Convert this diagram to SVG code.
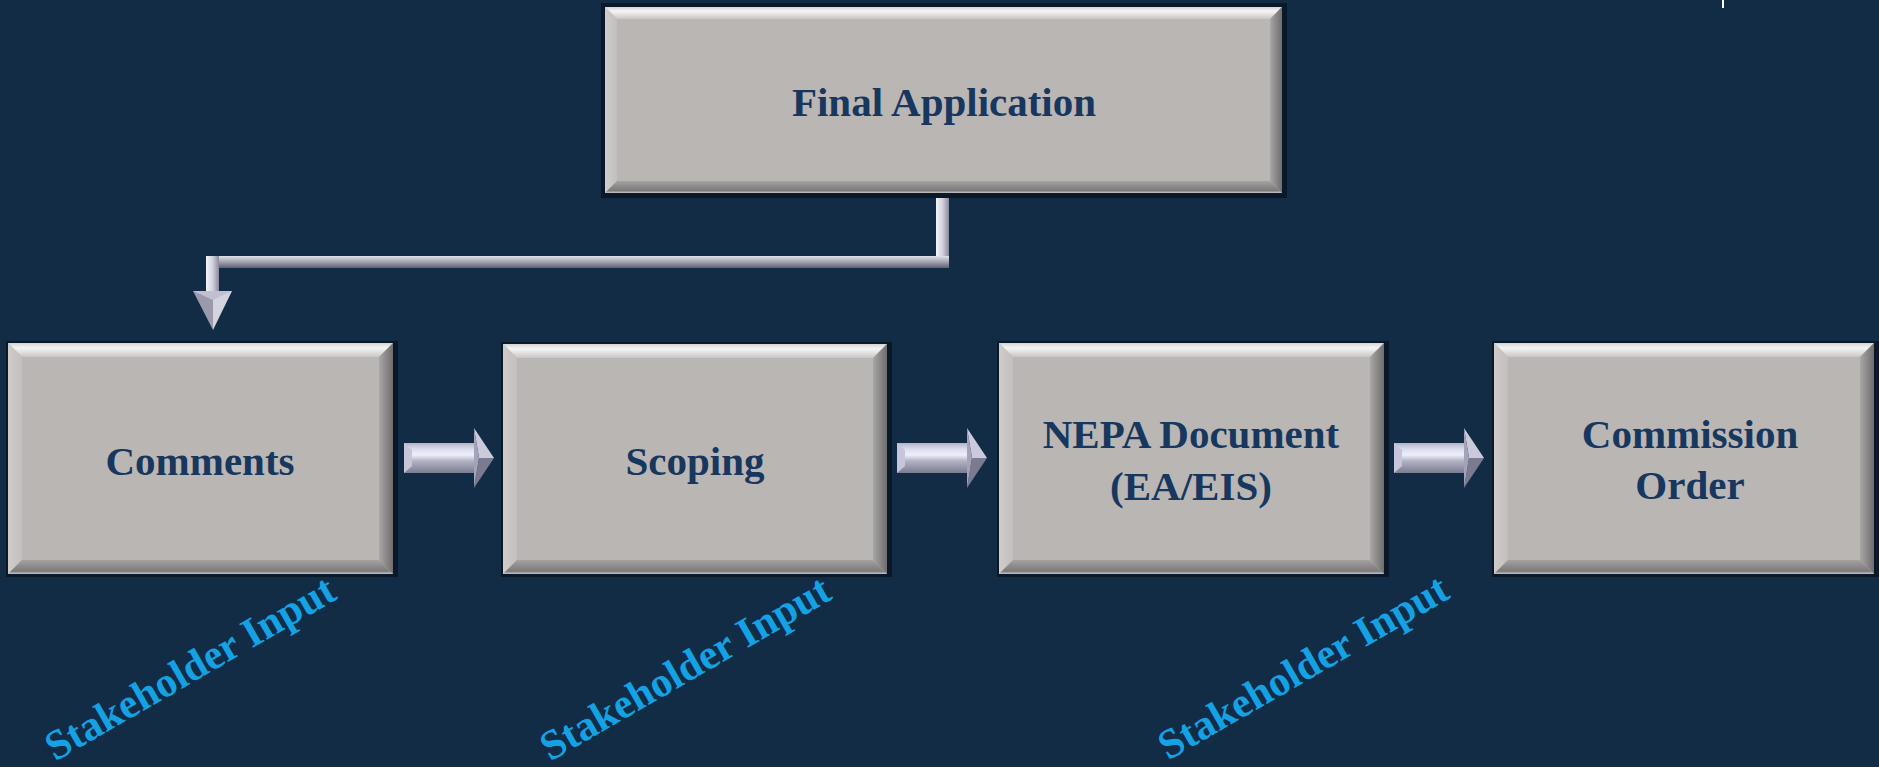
<svg xmlns="http://www.w3.org/2000/svg" width="1879" height="767" viewBox="0 0 1879 767">
<defs>
<style>
.base{fill:#bab6b4}
.shadow{fill:#0a1929}
.top{fill:url(#gTop)}
.left{fill:url(#gLeft)}
.right{fill:url(#gRight)}
.bottom{fill:url(#gBottom)}
.lbl{font-family:"Liberation Serif","Times New Roman",serif;font-weight:bold;font-size:41px;fill:#17375e;text-anchor:middle}
.sh{font-family:"Liberation Serif","Times New Roman",serif;font-weight:bold;font-size:42px;fill:#14a2e4;text-anchor:middle}
</style>
<linearGradient id="gTop" x1="0" y1="0" x2="0" y2="1"><stop offset="0" stop-color="#d6d3d3"/><stop offset="0.35" stop-color="#f6f5f5"/><stop offset="1" stop-color="#c9c6c5"/></linearGradient>
<linearGradient id="gLeft" x1="0" y1="0" x2="1" y2="0"><stop offset="0" stop-color="#cfcccb"/><stop offset="1" stop-color="#c2bfbe"/></linearGradient>
<linearGradient id="gRight" x1="0" y1="0" x2="1" y2="0"><stop offset="0" stop-color="#a9a6a5"/><stop offset="1" stop-color="#6f6d6d"/></linearGradient>
<linearGradient id="gBottom" x1="0" y1="0" x2="0" y2="1"><stop offset="0" stop-color="#a5a2a1"/><stop offset="0.8" stop-color="#7b7979"/><stop offset="1" stop-color="#c8c6c6"/></linearGradient>
<linearGradient id="gShaft" x1="0" y1="0" x2="0" y2="1"><stop offset="0" stop-color="#b4b4c8"/><stop offset="0.2" stop-color="#dcdcee"/><stop offset="0.4" stop-color="#eeeefb"/><stop offset="0.6" stop-color="#b2b2c6"/><stop offset="1" stop-color="#7c7c92"/></linearGradient>
<linearGradient id="gHBar" x1="0" y1="0" x2="0" y2="1"><stop offset="0" stop-color="#e2e2ea"/><stop offset="0.45" stop-color="#a8a8b6"/><stop offset="1" stop-color="#5e5e6e"/></linearGradient>
<linearGradient id="gVBar" x1="0" y1="0" x2="1" y2="0"><stop offset="0" stop-color="#f4f4fa"/><stop offset="0.5" stop-color="#d2d2de"/><stop offset="1" stop-color="#8a8a9c"/></linearGradient>
<g id="rarrow">
<rect x="0" y="15" width="72" height="30" fill="url(#gShaft)"/>
<polygon points="0,15 8,22 8,38 0,45" fill="#c6c6d8"/>
<polygon points="70,0 90,30 75,30" fill="#cacadc"/>
<polygon points="75,30 90,30 70,60" fill="#7a7a90"/>
<polygon points="70,0 75,30 70,60" fill="#a4a4b8"/>
</g>
</defs>
<rect width="1879" height="767" fill="#122c46"/>
<line x1="1723" y1="0" x2="1723" y2="8" stroke="#ffffff" stroke-width="2"/>

<g id="connectors">
<rect x="936" y="193" width="13" height="75" fill="url(#gVBar)"/>
<rect x="206" y="256" width="743" height="12" fill="url(#gHBar)"/>
<rect x="206" y="256" width="13" height="37" fill="url(#gVBar)"/>
<polygon points="193,291 213,291 213,330" fill="#9a9aac"/>
<polygon points="213,291 232,291 213,330" fill="#d4d4e0"/>
<polygon points="193,291 232,291 213,300" fill="#c0c0d0"/>
<use href="#rarrow" x="404" y="428"/>
<use href="#rarrow" x="897" y="428"/>
<use href="#rarrow" x="1394" y="428"/>
</g>

<g id="final-application">
<rect class="shadow" x="601" y="3" width="686" height="195"/>
<rect class="base" x="605" y="7" width="677" height="186"/>
<polygon class="top" points="605,7 1282,7 1270,19 617,19"/>
<polygon class="left" points="605,7 617,19 617,181 605,193"/>
<polygon class="right" points="1282,7 1282,193 1270,181 1270,19"/>
<polygon class="bottom" points="605,193 617,181 1270,181 1282,193"/>
<text class="lbl" x="944" y="116">Final Application</text>
</g>

<g id="comments">
<rect class="shadow" x="6" y="341" width="392" height="236"/>
<rect class="base" x="8" y="343" width="385" height="231"/>
<polygon class="top" points="8,343 393,343 379,357 22,357"/>
<polygon class="left" points="8,343 22,357 22,560 8,574"/>
<polygon class="right" points="393,343 393,574 379,560 379,357"/>
<polygon class="bottom" points="8,574 22,560 379,560 393,574"/>
<text class="lbl" x="200" y="475">Comments</text>
</g>

<g id="scoping">
<rect class="shadow" x="501" y="342" width="391" height="235"/>
<rect class="base" x="503" y="344" width="384" height="230"/>
<polygon class="top" points="503,344 887,344 873,358 517,358"/>
<polygon class="left" points="503,344 517,358 517,560 503,574"/>
<polygon class="right" points="887,344 887,574 873,560 873,358"/>
<polygon class="bottom" points="503,574 517,560 873,560 887,574"/>
<text class="lbl" x="695" y="475">Scoping</text>
</g>

<g id="nepa-document">
<rect class="shadow" x="997" y="341" width="392" height="236"/>
<rect class="base" x="999" y="343" width="385" height="231"/>
<polygon class="top" points="999,343 1384,343 1370,357 1013,357"/>
<polygon class="left" points="999,343 1013,357 1013,560 999,574"/>
<polygon class="right" points="1384,343 1384,574 1370,560 1370,357"/>
<polygon class="bottom" points="999,574 1013,560 1370,560 1384,574"/>
<text class="lbl" x="1191" y="448">NEPA Document</text>
<text class="lbl" x="1191" y="500">(EA/EIS)</text>
</g>

<g id="commission-order">
<rect class="shadow" x="1492" y="341" width="387" height="236"/>
<rect class="base" x="1494" y="343" width="380" height="231"/>
<polygon class="top" points="1494,343 1874,343 1860,357 1508,357"/>
<polygon class="left" points="1494,343 1508,357 1508,560 1494,574"/>
<polygon class="right" points="1874,343 1874,574 1860,560 1860,357"/>
<polygon class="bottom" points="1494,574 1508,560 1860,560 1874,574"/>
<text class="lbl" x="1690" y="448">Commission</text>
<text class="lbl" x="1690" y="499">Order</text>
</g>

<g id="stakeholder-labels">
<text class="sh" x="197" y="680" transform="rotate(-30 197 680)">Stakeholder Input</text>
<text class="sh" x="692" y="680" transform="rotate(-30 692 680)">Stakeholder Input</text>
<text class="sh" x="1310" y="679" transform="rotate(-30 1310 679)">Stakeholder Input</text>
</g>
</svg>
